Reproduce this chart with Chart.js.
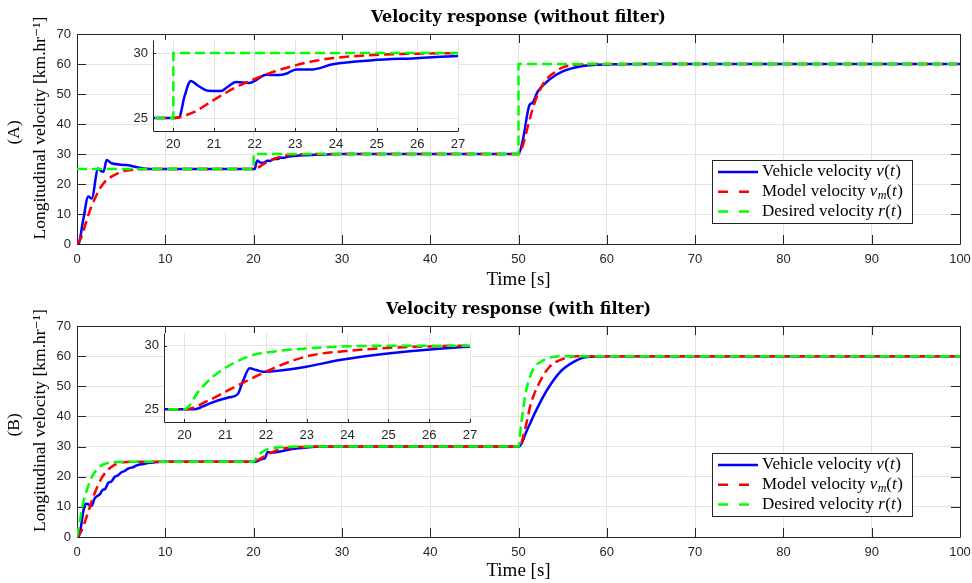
<!DOCTYPE html>
<html>
<head>
<meta charset="utf-8">
<script src="https://cdn.jsdelivr.net/npm/chart.js@4/dist/chart.umd.min.js"></script>
<style>
  body { margin: 0; background: #fff; }
  #wrap { position: relative; width: 972px; height: 583px; }
  canvas { position: absolute; }
</style>
</head>
<body>
<div id="wrap">
  <canvas id="mainA" width="972" height="292" style="left:0;top:0"></canvas>
  <canvas id="mainB" width="972" height="291" style="left:0;top:292px"></canvas>
  <canvas id="insetA" width="350" height="116" style="left:120px;top:36px"></canvas>
  <canvas id="insetB" width="352" height="114" style="left:130px;top:329px"></canvas>
</div>
<script>
// ---- data ----
// (A) without filter
var tVehA = [0, 0.15, 0.7, 1.28, 1.66, 2.4, 2.75, 3.0, 3.36, 3.9, 5.6, 7.5, 9, 12, 19.9, 20.05, 20.15, 20.27, 20.43, 20.6,
  20.85, 21.17, 21.34, 21.54, 21.87, 22.03, 22.28, 22.6, 22.77, 23.02, 23.43, 23.92, 24.9, 25.97, 27, 28, 30, 35, 50, 50.5,
  51.25, 51.56, 52.2, 53.5, 55.06, 56.96, 60, 65, 100];
var vVehA = [0, 0, 8, 15.8, 15.2, 25.2, 24.3, 24.1, 28, 26.9, 26.3, 25.2, 25, 25, 25, 25, 25.08, 26.6, 27.85, 27.5,
  27.1, 27.08, 27.4, 27.77, 27.7, 27.9, 28.33, 28.3, 28.4, 28.74, 28.74, 29.13, 29.44, 29.6, 29.77, 29.87, 29.97, 30, 30, 34.8,
  46.4, 47, 50.9, 54.8, 57.6, 59.2, 59.85, 60, 60];
var tModA = [0, 0.5, 1, 1.5, 2, 2.5, 3, 3.5, 4, 5, 6, 7, 8, 10, 20, 20.5, 21, 21.5, 22, 22.5,
  23, 23.5, 24, 25, 26, 27, 28, 50, 50.5, 51, 51.5, 52, 52.5, 53, 53.5, 54, 55, 56, 57, 58, 100];
var vModA = [0, 2.3, 7, 11.5, 15, 18, 20.2, 21.6, 22.6, 24.0, 24.6, 24.9, 25, 25, 25, 25.45, 26.4, 27.3, 28.0, 28.6,
  29.05, 29.4, 29.63, 29.86, 29.95, 29.99, 30, 30, 33, 38.5, 44, 48.5, 51.8, 54.3, 55.9, 57.0, 58.9, 59.6, 59.9, 60, 60];
var tDesA = [0, 20, 20, 50, 50, 100];
var vDesA = [25, 25, 30, 30, 60, 60];

// (B) with filter
var tVehB = [0, 0.15, 0.9, 1.1, 1.66, 2.0, 2.3, 2.6, 2.9, 3.2, 3.55, 3.9, 4.25, 4.6, 5.0, 5.4, 5.8, 6.3, 6.8, 7.5,
  8.3, 9.8, 20, 20.25, 20.53, 20.86, 21.1, 21.31, 21.43, 21.6, 21.76, 21.92, 22.17, 22.99, 23.81, 25.04, 26.02, 27, 29, 50,
  50.1, 50.87, 52, 53.2, 54.7, 56.2, 57.7, 60, 100];
var vVehB = [0, 0, 10.7, 11, 10.3, 12.8, 13.6, 14.2, 15.6, 16.0, 18.0, 18.4, 19.9, 20.4, 21.4, 21.9, 22.7, 23.1, 23.8, 24.2,
  24.6, 25, 25, 25, 25.34, 25.73, 25.94, 26.2, 27.17, 28.22, 28.09, 27.96, 28.0, 28.35, 28.87, 29.4, 29.71, 29.92, 30, 30,
  30, 34.8, 42, 48.6, 54.7, 58, 59.7, 60, 60];
var tModB = [0, 0.5, 1.1, 1.85, 2.8, 3.74, 5.24, 7.5, 20, 20.04, 20.53, 21.02, 21.6, 22.0, 22.58, 23.15, 23.97, 25.04, 26.27, 27,
  28, 50, 50.1, 50.7, 51.4, 52.4, 53.5, 55.06, 56.6, 100];
var vModB = [0, 2, 6.8, 13.4, 19.6, 22.9, 24.8, 25, 25, 25, 25.6, 26.4, 27.36, 27.96, 28.74, 29.27, 29.58, 29.84, 29.97, 30,
  30, 30, 30, 35.3, 44.2, 51.4, 56.4, 59.1, 60, 60];
var tDesB = [0, 0.3, 0.6, 1, 1.5, 2, 2.5, 3, 4, 5, 6, 20, 20.37, 20.7, 21.19, 21.68, 22.17, 22.99, 24.2, 25.5,
  50, 50.3, 50.87, 51.6, 52.8, 54.3, 56, 100];
var vDesB = [0, 5, 10, 14.5, 18.8, 21.5, 23.1, 24.1, 24.8, 25, 25, 25, 26.5, 27.57, 28.6, 29.27, 29.53, 29.79, 29.97, 30,
  30, 37.5, 48.6, 55.2, 58.6, 59.9, 60, 60];

var xTicksInset = [20, 21, 22, 23, 24, 25, 26, 27];
var yTicksInset = [25, 30];

var SERIF = '"Liberation Serif", "DejaVu Serif", serif';
var TITLE_FONT = '"DejaVu Serif", serif';
var SANS = '"Liberation Sans", Arial, sans-serif';
var AXIS = '#262626';
var GRID = '#e2e2e2';

function pts(t, v) {
  return t.map(function (x, i) { return { x: x, y: v[i] }; });
}

function makeDatasets(tv, vv, tm, vm, td, vd, stepDesired) {
  return [
    { label: 'Vehicle velocity', data: pts(tv, vv), borderColor: '#0000ff', borderWidth: 2.5,
      pointRadius: 0, cubicInterpolationMode: 'monotone', order: 3 },
    { label: 'Model velocity', data: pts(tm, vm), borderColor: '#ff0000', borderWidth: 2.5,
      borderDash: [10, 5], pointRadius: 0, cubicInterpolationMode: 'monotone', order: 2 },
    { label: 'Desired velocity', data: pts(td, vd), borderColor: '#00ff00', borderWidth: 2.5,
      borderDash: [10, 5], pointRadius: 0, tension: 0,
      cubicInterpolationMode: stepDesired ? 'default' : 'monotone', order: 1 }
  ];
}

// box + inward ticks, MATLAB style
var frame = {
  id: 'frame',
  beforeDraw: function (chart, args, o) {
    if (!o.white) return;
    var a = chart.chartArea, ctx = chart.ctx;
    ctx.save();
    ctx.fillStyle = '#fff';
    ctx.fillRect(a.left, a.top, a.right - a.left, a.bottom - a.top);
    ctx.restore();
  },
  beforeDatasetsDraw: function (chart, args, o) {
    var ctx = chart.ctx, a = chart.chartArea, x = chart.scales.x, y = chart.scales.y;
    var L = o.len;
    ctx.save();
    ctx.strokeStyle = AXIS;
    ctx.lineWidth = 1;
    ctx.beginPath();
    x.ticks.forEach(function (t) {
      var px = Math.round(x.getPixelForValue(t.value)) + 0.5;
      ctx.moveTo(px, a.bottom); ctx.lineTo(px, a.bottom - L);
      if (o.full) { ctx.moveTo(px, a.top); ctx.lineTo(px, a.top + L); }
    });
    y.ticks.forEach(function (t) {
      var py = Math.round(y.getPixelForValue(t.value)) + 0.5;
      ctx.moveTo(a.left, py); ctx.lineTo(a.left + L, py);
      if (o.full) { ctx.moveTo(a.right, py); ctx.lineTo(a.right - L, py); }
    });
    var l = Math.round(a.left) + 0.5, r = Math.round(a.right) + 0.5;
    var tp = Math.round(a.top) + 0.5, b = Math.round(a.bottom) + 0.5;
    ctx.moveTo(l, tp); ctx.lineTo(l, b); ctx.lineTo(r, b);
    if (o.full) { ctx.lineTo(r, tp); ctx.lineTo(l, tp); }
    ctx.stroke();
    ctx.restore();
  }
};

// legend with italic math parts
var legendRows = [
  [{ t: 'Vehicle velocity ' }, { t: 'v', i: 1 }, { t: '(' }, { t: 't', i: 1 }, { t: ')' }],
  [{ t: 'Model velocity ' }, { t: 'v', i: 1 }, { t: 'm', i: 1, sub: 1 }, { t: '(' }, { t: 't', i: 1 }, { t: ')' }],
  [{ t: 'Desired velocity ' }, { t: 'r', i: 1 }, { t: '(' }, { t: 't', i: 1 }, { t: ')' }]
];
var mathLegend = {
  id: 'mathLegend',
  afterDatasetsDraw: function (chart, args, o) {
    if (!o.show) return;
    var ctx = chart.ctx, a = chart.chartArea;
    var w = 200, h = 63;
    var x0 = Math.round(a.right - 48 - w), y0 = Math.round(a.bottom - 21 - h);
    ctx.save();
    ctx.fillStyle = '#fff';
    ctx.fillRect(x0, y0, w, h);
    ctx.strokeStyle = AXIS;
    ctx.lineWidth = 1;
    ctx.strokeRect(x0 + 0.5, y0 + 0.5, w, h);
    legendRows.forEach(function (row, i) {
      var ds = chart.data.datasets[i];
      var yy = y0 + 12 + i * 19.7;
      ctx.beginPath();
      ctx.setLineDash(ds.borderDash ? [10, 11] : []);
      ctx.strokeStyle = ds.borderColor;
      ctx.lineWidth = ds.borderWidth;
      ctx.moveTo(x0 + 6, yy); ctx.lineTo(x0 + 46, yy);
      ctx.stroke();
      ctx.setLineDash([]);
      var tx = x0 + 50;
      ctx.fillStyle = '#000';
      ctx.textBaseline = 'middle';
      row.forEach(function (p) {
        ctx.font = (p.i ? 'italic ' : '') + (p.sub ? 12 : 17) + 'px ' + SERIF;
        ctx.fillText(p.t, tx, yy + (p.sub ? 4 : 0));
        tx += ctx.measureText(p.t).width + (p.i && !p.sub ? 0.5 : 0);
      });
    });
    ctx.restore();
  }
};

function mainOptions(title, panel, xh) {
  return {
    responsive: false, animation: false, devicePixelRatio: 1,
    layout: { padding: { left: 0, right: 12, top: 0, bottom: 0 } },
    plugins: {
      legend: { display: false },
      tooltip: { enabled: false },
      title: { display: true, text: title, color: '#000', fullSize: false,
        font: { family: TITLE_FONT, size: 16, weight: 'bold', lineHeight: 1.2 },
        padding: { top: 8, bottom: 6.8 } },
      frame: { len: 9, full: true },
      mathLegend: { show: true }
    },
    scales: {
      x: { type: 'linear', min: 0, max: 100,
        ticks: { stepSize: 10, padding: 8, color: AXIS, maxRotation: 0, font: { family: SANS, size: 13 } },
        grid: { color: GRID, drawTicks: false },
        border: { display: false },
        title: { display: true, text: 'Time [s]', color: '#000',
          font: { family: SERIF, size: 19, lineHeight: 1.2 }, padding: { top: 0, bottom: 1 } },
        afterFit: function (s) { s.height = xh; s.paddingLeft = 0; s.paddingRight = 0; } },
      y: { min: 0, max: 70,
        ticks: { stepSize: 10, padding: 6, color: AXIS, font: { family: SANS, size: 13 } },
        grid: { color: GRID, drawTicks: false },
        border: { display: false },
        title: { display: true,
          text: ['   ' + panel, '     Longitudinal velocity [km.hr\u207B\u00B9]'], color: '#000',
          font: { family: SERIF, size: 17.5, lineHeight: 1.5 }, padding: { top: 1, bottom: 0 } },
        afterFit: function (s) { s.width = 77; s.paddingTop = 0; s.paddingBottom = 0; } }
    }
  };
}

function insetOptions(yw) {
  return {
    responsive: false, animation: false, devicePixelRatio: 1,
    layout: { padding: { left: 0, right: 12, top: 4, bottom: 0 } },
    plugins: {
      legend: { display: false },
      tooltip: { enabled: false },
      frame: { len: 3, full: false, white: true },
      mathLegend: { show: false }
    },
    scales: {
      x: { type: 'linear', min: 19.5, max: 27,
        afterBuildTicks: function (s) { s.ticks = xTicksInset.map(function (v) { return { value: v }; }); },
        ticks: { padding: 6, color: AXIS, maxRotation: 0, font: { family: SANS, size: 13 } },
        grid: { color: GRID, drawTicks: false },
        border: { display: false },
        afterFit: function (s) { s.height = 21; s.paddingLeft = 0; s.paddingRight = 0; } },
      y: { min: 24, max: 31,
        afterBuildTicks: function (s) { s.ticks = yTicksInset.map(function (v) { return { value: v }; }); },
        ticks: { padding: 5, color: AXIS, font: { family: SANS, size: 13 } },
        grid: { color: GRID, drawTicks: false },
        border: { display: false },
        afterFit: function (s) { s.width = yw; s.paddingTop = 0; s.paddingBottom = 0; } }
    }
  };
}

Chart.register(frame, mathLegend);

new Chart(document.getElementById('mainA').getContext('2d'), {
  type: 'line',
  data: { datasets: makeDatasets(tVehA, vVehA, tModA, vModA, tDesA, vDesA, true) },
  options: mainOptions('Velocity response (without filter)', '(A)', 48)
});
new Chart(document.getElementById('mainB').getContext('2d'), {
  type: 'line',
  data: { datasets: makeDatasets(tVehB, vVehB, tModB, vModB, tDesB, vDesB, false) },
  options: mainOptions('Velocity response (with filter)', '(B)', 46)
});
new Chart(document.getElementById('insetA').getContext('2d'), {
  type: 'line',
  data: { datasets: makeDatasets(tVehA, vVehA, tModA, vModA, tDesA, vDesA, true) },
  options: insetOptions(33)
});
new Chart(document.getElementById('insetB').getContext('2d'), {
  type: 'line',
  data: { datasets: makeDatasets(tVehB, vVehB, tModB, vModB, tDesB, vDesB, false) },
  options: insetOptions(34)
});
</script>
</body>
</html>
